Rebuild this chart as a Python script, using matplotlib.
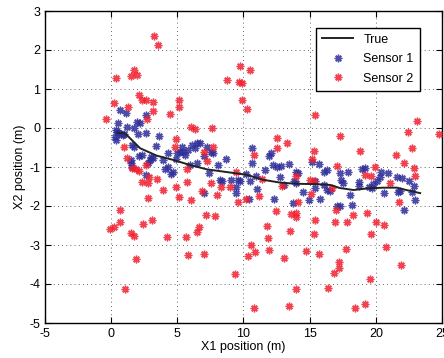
import matplotlib
matplotlib.use("Agg")
import matplotlib.pyplot as plt

plt.rcParams['font.family'] = ['Liberation Sans', 'DejaVu Sans']
plt.rcParams['axes.unicode_minus'] = False

# true trajectory
true_x = [0.48, 1.06, 2.19, 3.45, 4.71, 5.97, 7.23, 8.74, 10.25, 11.5, 12.77, 14.0,
          15.54, 16.55, 17.3, 18.31, 19.32, 20.58, 21.6, 22.3, 23.35]
true_y = [-0.12, -0.14, -0.52, -0.71, -0.82, -0.95, -1.06, -1.13, -1.20, -1.33, -1.40, -1.43,
          -1.44, -1.46, -1.54, -1.59, -1.55, -1.53, -1.53, -1.59, -1.67]

# sensor 1 measurements
s1_x = [0.55, 0.68, 1.13, 0.3, 0.45, 0.6, 0.75, 0.9, 1.0, 0.35, 0.4, 1.18, 1.94, 2.19, 1.76,
        2.62, 2.62, 2.0, 1.56, 1.69, 1.51, 1.56, 2.14, 2.67, 2.75, 2.97, 3.17, 3.38, 3.58,
        3.95, 4.28, 4.33, 4.5, 4.66, 4.9, 4.96, 5.2, 5.46, 5.39, 5.84, 6.1, 6.47, 6.73,
        5.97, 6.47, 7.23, 7.53, 7.73, 6.98, 7.43, 7.05, 8.06, 8.24, 8.36, 8.69, 9.04,
        9.45, 9.62, 9.75, 9.45, 10.18, 10.5, 10.38, 10.68, 10.68, 10.96, 11.0, 11.64,
        11.9, 12.07, 12.2, 12.5, 12.8, 12.34, 12.78, 13.07, 13.45, 14.0, 14.1, 13.78,
        14.0, 13.75, 14.49, 14.92, 15.16, 15.67, 15.8, 15.4, 15.37, 16.05, 16.3, 16.1,
        16.3, 16.55, 17.05, 17.3, 17.3, 17.4, 17.55, 17.93, 18.06, 18.2, 18.7, 18.7,
        18.94, 19.2, 19.5, 19.7, 19.8, 20.08, 20.33, 20.4, 20.58, 20.95, 21.59, 21.71,
        21.84, 21.96, 22.13, 22.5, 22.76, 22.85, 22.93, 1.5, 2.3, 3.0, 4.1, 5.6, 6.3]
s1_y = [0.14, 0.46, 0.38, -0.22, -0.1, -0.12, -0.15, -0.17, -0.16, -0.3, -0.05, 0.03,
        0.16, 0.12, 0.0, 0.33, -0.14, -0.15, -0.44, -0.48, -0.90, -0.99, -0.71, -1.20,
        -0.90, -0.82, -0.78, -0.45, -0.2, -0.82, -0.65, -0.99, -1.17, -1.12, -0.80,
        -0.65, -0.61, -0.61, -0.48, -0.56, -0.44, -0.39, -0.39, -0.95, -0.90, -0.48,
        -0.61, -0.63, -0.73, -1.15, -1.67, -0.96, -1.33, -1.36, -0.80, -1.33, -1.52,
        -1.33, -1.36, -1.67, -1.18, -1.37, -1.82, -0.50, -0.89, -1.22, -1.57, -1.08,
        -0.72, -0.63, -0.96, -0.99, -0.97, -1.82, -1.25, -1.46, -0.92, -1.12, -1.16,
        -1.37, -1.42, -1.93, -1.63, -1.84, -0.88, -0.93, -1.82, -1.37, -1.54, -1.12,
        -1.07, -1.46, -1.59, -1.61, -2.01, -2.01, -1.16, -1.33, -1.42, -1.13, -1.72,
        -1.97, -1.39, -1.48, -1.05, -1.03, -1.5, -1.55, -1.44, -1.37, -1.25, -1.12,
        -1.67, -1.16, -1.26, -1.63, -1.61, -1.29, -2.10, -1.37, -1.63, -1.48, -1.84,
        -0.82, -0.68, -0.75, -1.05, -0.7, -0.5]

# sensor 2 measurements
s2_x = [-0.4, 0.4, 0.25, 1.26, 1.5, 1.76, 1.94, 2.07, 2.3, 2.6, 3.15, 3.15, 2.72, 3.2,
        3.53, 4.46, 5.09, 5.14, 6.0, 6.35, 7.6, 8.74, 9.7, 9.65, 9.9, 10.5, 9.92, 10.25,
        0.96, 1.18, 1.9, 1.61, 2.1, 2.3, 2.87, 2.77, 2.82, 3.45, 2.6, 3.9, 4.9, 4.84,
        4.9, 5.16, 5.72, 5.72, 6.07, 7.03, 7.68, 7.23, 7.53, 6.85, 8.29, 8.0, 8.97, 9.4,
        9.57, 10.18, 10.78, 11.16, 12.54, 12.54, 13.3, 11.4, 12.9, 12.44, 13.6, 13.95,
        14.0, 14.1, 14.0, 15.14, 15.3, 15.37, 15.04, 15.3, 15.1, 17.3, 17.05, 16.7, 18.8,
        19.2, 19.6, 19.95, 21.1, 21.55, 22.13, 22.46, 22.7, 23.1, 22.9, 22.98, 24.8,
        21.76, -0.08, 0.18, 0.68, 0.68, 1.51, 1.74, 1.89, 1.08, 2.39, 3.12, 4.2, 5.67,
        5.77, 6.62, 6.52, 7.15, 7.86, 7.03, 9.32, 10.58, 10.33, 10.88, 10.83, 11.74,
        11.84, 11.96, 13.07, 13.48, 13.45, 13.95, 14.73, 15.3, 15.37, 15.72, 16.37,
        16.88, 16.85, 17.25, 17.25, 17.73, 17.83, 18.26, 19.32, 19.65, 20.05, 19.57,
        18.46, 19.17, 20.63, 20.76, 21.89, 16.98]
s2_y = [0.23, 1.28, 0.63, 0.55, 1.33, 1.5, 1.36, 0.84, 0.72, 0.72, 0.67, 0.44, 0.23, 2.36,
        2.12, 0.36, 0.72, 0.55, 0.03, -0.03, -0.01, 1.22, 1.59, 1.19, 1.16, 1.5, 0.72,
        0.5, -0.48, -0.76, -1.05, -1.03, -1.09, -1.39, -1.25, -1.41, -1.79, -1.31, -0.95,
        -1.59, -0.28, -0.48, -1.52, -1.76, -1.05, -1.39, -1.84, -0.61, -0.48, -0.84,
        -1.40, -1.61, -1.50, -1.72, -1.50, -1.12, -1.89, -1.82, -0.70, -1.75, -0.25,
        -0.5, -0.38, -1.31, -1.48, -2.14, -2.21, -2.18, -2.27, -1.89, -1.22, -0.79,
        -0.58, 0.33, -1.33, -1.37, -1.70, -0.2, -0.97, -1.54, -0.59, -1.2, -1.22, -1.0,
        -1.42, -0.70, -0.89, -0.09, -0.52, 0.19, -1.03, -1.23, -0.15, -1.89, -2.58,
        -2.55, -2.10, -2.4, -2.68, -2.76, -3.37, -4.13, -2.47, -2.37, -2.80, -2.80,
        -3.26, -2.53, -2.67, -2.24, -2.25, -3.23, -3.75, -3.0, -3.27, -3.17, -4.62,
        -2.51, -2.83, -3.12, -3.34, -2.63, -4.56, -4.13, -3.15, -2.71, -2.37, -3.23,
        -4.10, -2.41, -3.72, -3.43, -3.59, -3.1, -2.4, -2.23, -2.18, -2.71, -2.41,
        -3.86, -4.61, -4.5, -2.48, -3.05, -3.52, -2.1]

fig = plt.figure(figsize=(4.44, 3.58), dpi=100)
ax = fig.add_axes([45 / 444, 1 - 323 / 358, 397 / 444, 312 / 358])

star = (8, 2, 0)
ax.plot(s1_x, s1_y, linestyle='none', marker=star, markersize=5.5, markeredgewidth=1.0,
        color='#2e2e9a', alpha=0.85, label='Sensor 1', zorder=3)
ax.plot(s2_x, s2_y, linestyle='none', marker=star, markersize=5.5, markeredgewidth=1.0,
        color='#f02030', alpha=0.85, label='Sensor 2', zorder=3)
ax.plot(true_x, true_y, color='#222222', linewidth=1.4, label='True', zorder=4)

ax.set_xlim(-5, 25)
ax.set_ylim(-5, 3)
ax.set_xticks(range(-5, 26, 5))
ax.set_yticks(range(-5, 4))
ax.grid(True, linestyle=(0, (1, 4)), color='#333333', linewidth=0.6)
ax.tick_params(direction='in', top=True, right=True, labelsize=9, length=4)
for s in ax.spines.values():
    s.set_linewidth(1.0)

ax.set_xlabel('X1 position (m)', fontsize=9, labelpad=1)
ax.set_ylabel('X2 position (m)', fontsize=9, labelpad=2)

h, l = ax.get_legend_handles_labels()
leg = ax.legend([h[2], h[0], h[1]], [l[2], l[0], l[1]], loc='upper right',
                bbox_to_anchor=(0.96, 0.967), fancybox=False, edgecolor='black',
                fontsize=9, framealpha=1, handlelength=2.5, borderpad=0.5,
                labelspacing=0.6)
leg.get_frame().set_linewidth(1.0)

fig.savefig('out.png', dpi=100)
